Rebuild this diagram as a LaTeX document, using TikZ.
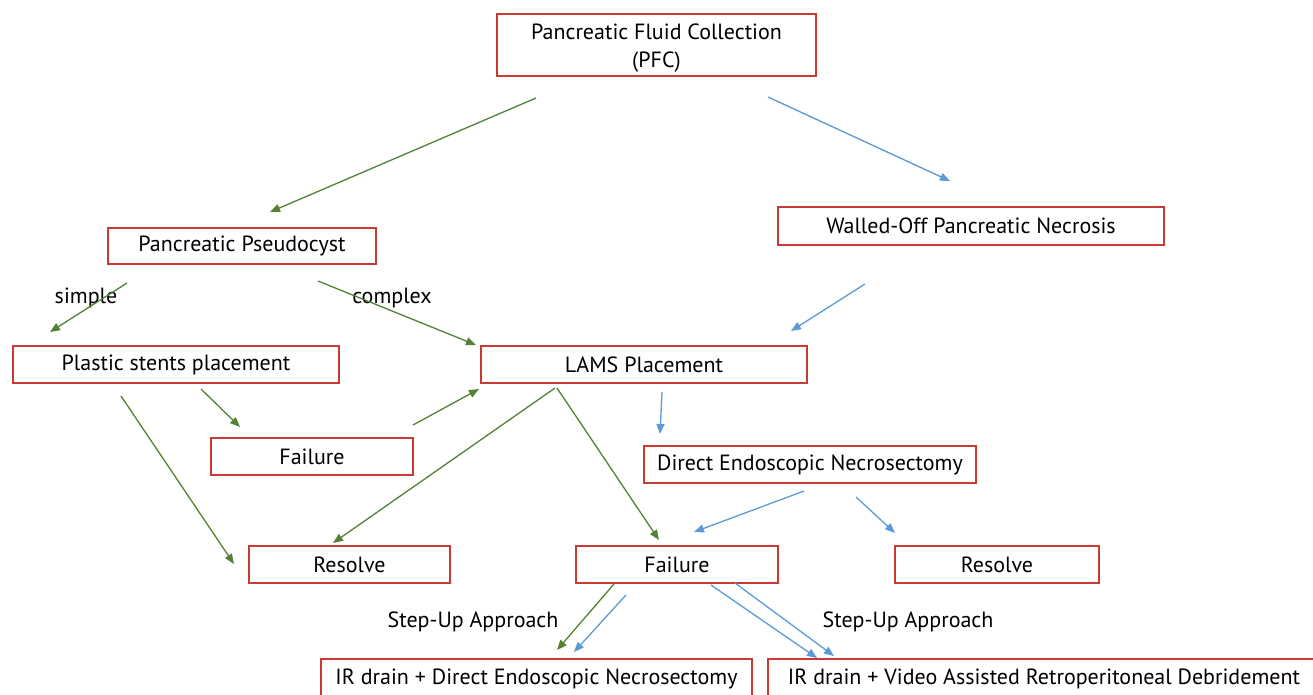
\documentclass[tikz,border=0pt]{standalone}
\usepackage{fontspec}
\setmainfont{PT Sans}
\usetikzlibrary{arrows.meta}
\definecolor{boxred}{RGB}{200,58,50}
\definecolor{agreen}{RGB}{84,130,53}
\definecolor{ablue}{RGB}{91,155,213}
\begin{document}
\begin{tikzpicture}[x=1pt,y=-1pt,
  box/.style={draw=boxred,line width=1.6pt,rectangle,inner sep=0pt,font=\fontsize{22}{28}\selectfont,align=center},
  lbl/.style={font=\fontsize{22}{28}\selectfont,inner sep=0pt,align=center},
  garr/.style={draw=agreen,line width=1.3pt,-{Triangle[length=10pt,width=8pt]}},
  barr/.style={draw=ablue,line width=1.3pt,-{Triangle[length=10pt,width=8pt]}}]
\useasboundingbox (0,0) rectangle (1313,694);
\fill[white] (0,0) rectangle (1313,694);
\clip (0,0) rectangle (1313,694);
% boxes
\node[box,minimum width=319pt,minimum height=62pt] (pfc) at (656.5,45) {};
\node[lbl] (pfct) at (656.5,48) {Pancreatic Fluid Collection\\(PFC)};
\node[box,minimum width=268pt,minimum height=36pt] (pp) at (242,246) {Pancreatic Pseudocyst};
\node[box,minimum width=386pt,minimum height=38pt] (wopn) at (971,226) {Walled-Off Pancreatic Necrosis};
\node[box,minimum width=326pt,minimum height=37pt] (psp) at (176,364.5) {Plastic stents placement};
\node[box,minimum width=326pt,minimum height=37pt] (lams) at (644,364.5) {LAMS Placement};
\node[box,minimum width=202pt,minimum height=37pt] (fl) at (312,456.5) {Failure};
\node[box,minimum width=332pt,minimum height=37pt] (den) at (810,464.5) {Direct Endoscopic Necrosectomy};
\node[box,minimum width=201pt,minimum height=37pt] (rl) at (349.5,564.5) {Resolve};
\node[box,minimum width=202pt,minimum height=37pt] (fc) at (677,564.5) {Failure};
\node[box,minimum width=204pt,minimum height=37pt] (rr) at (997,564.5) {Resolve};
\node[box,minimum width=431pt,minimum height=42pt] (irden) at (536.5,680) {};
\node[lbl] (irdent) at (536.5,679) {IR drain + Direct Endoscopic Necrosectomy};
\node[box,minimum width=582pt,minimum height=42pt] (irvard) at (1059,680) {};
\node[lbl] (irvardt) at (1044,679) {IR drain + Video Assisted Retroperitoneal Debridement};
% labels
\node[lbl] (simple) at (86,298) {simple};
\node[lbl] (complex) at (392,298) {complex};
\node[lbl] (su1) at (473,622) {Step-Up Approach};
\node[lbl] (su2) at (908,622) {Step-Up Approach};
% connector end points
\coordinate (g1a) at (536,98);   \coordinate (g1b) at (270,212);
\coordinate (g2a) at (127,283);  \coordinate (g2b) at (50,332);
\coordinate (g3a) at (318,281);  \coordinate (g3b) at (476,345);
\coordinate (g4a) at (201,389);  \coordinate (g4b) at (240,427);
\coordinate (g5a) at (121,396);  \coordinate (g5b) at (234,564);
\coordinate (g6a) at (413,425);  \coordinate (g6b) at (479,389);
\coordinate (g7a) at (555,388);  \coordinate (g7b) at (333,543);
\coordinate (g8a) at (557,388);  \coordinate (g8b) at (659,540);
\coordinate (g9a) at (614,584);  \coordinate (g9b) at (557,650);
\coordinate (b1a) at (768,97);   \coordinate (b1b) at (950,181);
\coordinate (b2a) at (865,284);  \coordinate (b2b) at (791,331);
\coordinate (b3a) at (662,392);  \coordinate (b3b) at (660,434);
\coordinate (b4a) at (804,491);  \coordinate (b4b) at (694,532);
\coordinate (b5a) at (856,497);  \coordinate (b5b) at (895,533);
\coordinate (b6a) at (626,595);  \coordinate (b6b) at (574,652);
\coordinate (b7a) at (711,585);  \coordinate (b7b) at (817,658);
\coordinate (b8a) at (735,583);  \coordinate (b8b) at (834,656);
% connectors
\draw[garr] (g1a) -- (g1b);
\draw[garr] (g2a) -- (g2b);
\draw[garr] (g3a) -- (g3b);
\draw[garr] (g4a) -- (g4b);
\draw[garr] (g5a) -- (g5b);
\draw[garr] (g6a) -- (g6b);
\draw[garr] (g7a) -- (g7b);
\draw[garr] (g8a) -- (g8b);
\draw[garr] (g9a) -- (g9b);
\draw[barr] (b1a) -- (b1b);
\draw[barr] (b2a) -- (b2b);
\draw[barr] (b3a) -- (b3b);
\draw[barr] (b4a) -- (b4b);
\draw[barr] (b5a) -- (b5b);
\draw[barr] (b6a) -- (b6b);
\draw[barr] (b7a) -- (b7b);
\draw[barr] (b8a) -- (b8b);
\end{tikzpicture}
\end{document}
